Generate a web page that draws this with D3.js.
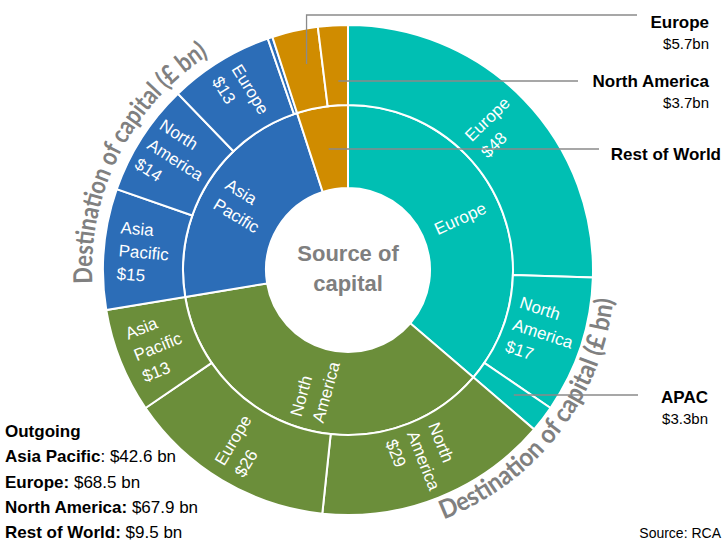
<!DOCTYPE html>
<html><head>
<meta charset="utf-8">
<script src="https://d3js.org/d3.v7.min.js"></script>
<style>
  body { margin: 0; background: #fff; }
  svg { font-family: "Liberation Sans", Arial, sans-serif; }
</style>
</head>
<body>
<svg id="chart" width="724" height="541"></svg>
<script>
  // source of capital (inner ring), clockwise from 12 o'clock
  const sourceNames = ["Europe", "North America", "Asia Pacific", "Rest of World"];
  const sourceTotals = [68.5, 67.9, 42.6, 9.5];
  const sourceColors = ["#00bfb3", "#6b8e3a", "#2c6db7", "#d08c00"];

  // destination of capital (outer ring), per source
  const destNames = [
    ["Europe", "North America", "APAC"],
    ["North America", "Europe", "Asia Pacific"],
    ["Asia Pacific", "North America", "Europe", "Rest of World"],
    ["Europe", "North America"]
  ];
  const destValues = [
    [48, 17, 3.3],
    [29, 26, 13],
    [15, 14, 13, 0.6],
    [5.7, 3.7]
  ];

  const legendOrder = ["Asia Pacific", "Europe", "North America", "Rest of World"];

  // small slices pointed out with leader lines
  const calloutPaths = [["Rest of World", "Europe"], ["Rest of World", "North America"], ["Rest of World"], ["Europe", "APAC"]];
  const calloutTitles = ["Europe", "North America", "Rest of World", "APAC"];

  const svg = d3.select("#chart");
  const cx = 348, cy = 270;
  const radii = [82, 165, 245];

  const rootData = {
    name: "root",
    children: sourceNames.map((s, i) => ({
      name: s,
      children: destNames[i].map((n, j) => ({ name: n, value: destValues[i][j] }))
    }))
  };
  const root = d3.hierarchy(rootData).sum(d => d.value || 0);
  d3.partition().size([2 * Math.PI, 1])(root);

  const colorScale = d3.scaleOrdinal().domain(sourceNames).range(sourceColors);

  const arc = d3.arc()
    .startAngle(d => d.x0)
    .endAngle(d => d.x1)
    .innerRadius(d => radii[d.depth - 1])
    .outerRadius(d => radii[d.depth]);

  const g = svg.append("g").attr("transform", `translate(${cx},${cy})`);
  const nodes = root.descendants().filter(d => d.depth > 0);

  g.selectAll("path.slice").data(nodes)
    .join("path")
    .attr("class", "slice")
    .attr("d", arc)
    .attr("fill", d => colorScale(d.depth === 1 ? d.data.name : d.parent.data.name))
    .attr("stroke", "#fff")
    .attr("stroke-width", 2);

  // white labels inside the slices, radial
  const lh = 23;
  const labelled = nodes.filter(d => d.depth === 1 ? d.value > 20 : d.value >= 10);
  const labels = g.selectAll("text.lbl").data(labelled)
    .join("text")
    .attr("class", "lbl")
    .attr("fill", "#fff")
    .attr("font-size", 17)
    .attr("transform", d => {
      const [x, y] = arc.centroid(d);
      const a = (d.x0 + d.x1) / 2 * 180 / Math.PI;
      const rot = a < 180 ? a - 90 : a - 270;
      return `translate(${x},${y}) rotate(${rot})`;
    });

  labels.each(function(d) {
    const lines = d.data.name.split(" ");
    if (d.depth === 2) lines.push("$" + Math.round(d.value));
    const t = d3.select(this);
    lines.forEach((l, i) => {
      t.append("tspan").text(l).attr("y", (i - (lines.length - 1) / 2) * lh + 6);
    });
    const w = d3.max(t.selectAll("tspan").nodes(), n => n.getComputedTextLength());
    t.selectAll("tspan").attr("x", -w / 2);
  });

  // centre title
  const centre = g.append("text")
    .attr("text-anchor", "middle")
    .attr("font-size", 22)
    .attr("font-weight", "bold")
    .attr("fill", "#7f7f7f");
  centre.append("tspan").attr("x", 0).attr("y", -9).text("Source of");
  centre.append("tspan").attr("x", 0).attr("y", 21).text("capital");

  // curved "Destination of capital" titles
  const toRad = deg => deg * Math.PI / 180;
  function arcPath(r, a0, a1, ccw) {
    const p = d3.path();
    p.arc(0, 0, r, toRad(a0 - 90), toRad(a1 - 90), ccw);
    return p.toString();
  }
  const defs = svg.append("defs");
  defs.append("path").attr("id", "destTop").attr("d", arcPath(256, 267, 340, false));
  defs.append("path").attr("id", "destBottom").attr("d", arcPath(267, 159, 85, true));

  [["destTop", 268], ["destBottom", 292]].forEach(([id, len]) => {
    g.append("text")
      .attr("font-family", "Lato, 'Open Sans', sans-serif")
      .attr("font-weight", "bold")
      .attr("font-size", 26)
      .attr("fill", "#808080")
      .append("textPath")
      .attr("href", "#" + id)
      .attr("textLength", len)
      .attr("lengthAdjust", "spacingAndGlyphs")
      .text("Destination of capital (£ bn)");
  });

  // callouts on the right
  const callLayout = {
    lineY: [15, 81, 149, 395],
    lineEnd: [637, 578, 599, 638],
    textX: [709, 709, 721, 708],
    titleY: [28, 87, 160, 403]
  };
  function findNode(path) {
    let n = root;
    path.forEach(name => { n = n.children.find(c => c.data.name === name); });
    return n;
  }
  const lineGen = d3.line();
  calloutPaths.forEach((p, i) => {
    const node = findNode(p);
    const [px, py] = arc.centroid(node);
    const sx = px + cx + (node.depth === 2 ? 3 : 0), sy = py + cy - (node.depth === 2 ? 6 : 0);
    const ly = callLayout.lineY[i];
    const pts = Math.abs(sy - ly) > 30
      ? [[sx, sy], [sx, ly], [callLayout.lineEnd[i], ly]]
      : [[sx, ly], [callLayout.lineEnd[i], ly]];
    svg.append("path")
      .attr("d", lineGen(pts))
      .attr("fill", "none")
      .attr("stroke", "#8a8a8a")
      .attr("stroke-width", 1.3);
    svg.append("text")
      .attr("x", callLayout.textX[i])
      .attr("y", callLayout.titleY[i])
      .attr("text-anchor", "end")
      .attr("font-size", 17)
      .attr("font-weight", "bold")
      .attr("fill", "#000")
      .text(calloutTitles[i]);
    if (node.depth === 2) {
      svg.append("text")
        .attr("x", callLayout.textX[i])
        .attr("y", callLayout.titleY[i] + 21)
        .attr("text-anchor", "end")
        .attr("font-size", 15)
        .attr("fill", "#000")
        .text("$" + node.value + "bn");
    }
  });

  // outgoing legend, bottom left
  const legend = svg.append("text").attr("font-size", 17).attr("fill", "#000");
  legend.append("tspan").attr("x", 5).attr("y", 437).attr("font-weight", "bold").text("Outgoing");
  legendOrder.forEach((name, i) => {
    const v = sourceTotals[sourceNames.indexOf(name)];
    const row = legend.append("tspan").attr("x", 5).attr("y", 437 + (i + 1) * 25.3);
    row.append("tspan").attr("font-weight", "bold").text(name + (i === 0 ? "" : ":"));
    row.append("tspan").text((i === 0 ? ": " : " ") + "$" + v + " bn");
  });

  svg.append("text")
    .attr("x", 721).attr("y", 538)
    .attr("text-anchor", "end")
    .attr("font-size", 14)
    .attr("fill", "#000")
    .text("Source: RCA");
</script>
</body>
</html>
